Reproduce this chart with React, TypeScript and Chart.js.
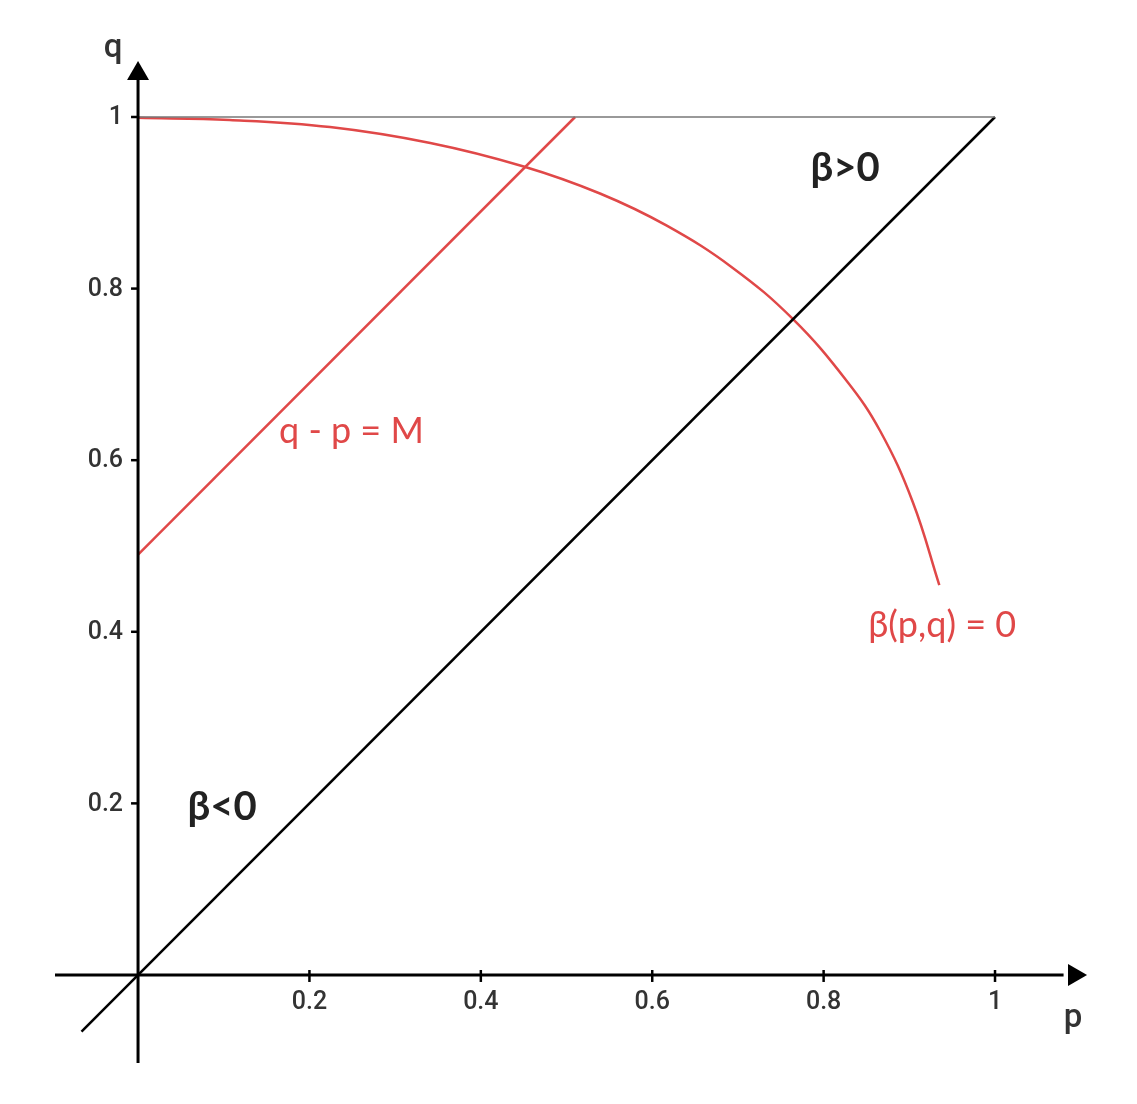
import { useEffect, useRef } from "react";
import { Chart, registerables } from "chart.js";
Chart.register(...registerables);

// ---- data ----
const xTickValues = [0.2, 0.4, 0.6, 0.8, 1];
const xTickLabels = ["0.2", "0.4", "0.6", "0.8", "1"];
const yTickValues = [0.2, 0.4, 0.6, 0.8, 1];
const yTickLabels = ["0.2", "0.4", "0.6", "0.8", "1"];

const M = 0.49;
const mLineP = [0, 1 - M];
const mLineQ = [M, 1];

const diagP = [-0.066, 1];
const diagQ = [-0.066, 1];

const topLineP = [0, 1];
const topLineQ = [1, 1];

const curveP = [0, 0.107, 0.224, 0.341, 0.45, 0.539, 0.617, 0.694, 0.764, 0.827, 0.866, 0.904, 0.935];
const curveQ = [0.999, 0.9965, 0.9883, 0.9697, 0.9423, 0.9108, 0.8733, 0.8241, 0.7646, 0.6923, 0.634, 0.5513, 0.4545];

const xAxisP = [-0.097, 1.08];
const yAxisQ = [-0.103, 1.05];

const X_MIN = -0.0969;
const X_MAX = 1.105;
const Y_MIN = -0.1026;
const Y_MAX = 1.0641;

const RED = "#e04848";

const zip = (a: number[], b: number[]) => a.map((v, i) => ({ x: v, y: b[i] }));

const overlayPlugin = {
  id: "overlay",
  afterDatasetsDraw(chart: any) {
    const ctx: CanvasRenderingContext2D = chart.ctx;
    const xs = chart.scales.x;
    const ys = chart.scales.y;
    const x0 = xs.getPixelForValue(0);
    const y0 = ys.getPixelForValue(0);
    ctx.save();
    // tick marks
    ctx.strokeStyle = "#000";
    ctx.lineWidth = 2.5;
    xTickValues.forEach((v) => {
      const px = xs.getPixelForValue(v);
      ctx.beginPath();
      ctx.moveTo(px, y0 - 5);
      ctx.lineTo(px, y0 + 7);
      ctx.stroke();
    });
    yTickValues.forEach((v) => {
      const py = ys.getPixelForValue(v);
      ctx.beginPath();
      ctx.moveTo(x0 - 7, py);
      ctx.lineTo(x0 + 1, py);
      ctx.stroke();
    });
    // tick labels
    ctx.fillStyle = "#333";
    ctx.font = "500 25px Roboto";
    ctx.textAlign = "center";
    ctx.textBaseline = "middle";
    xTickValues.forEach((v, i) => {
      ctx.fillText(xTickLabels[i], xs.getPixelForValue(v), y0 + 28);
    });
    ctx.textAlign = "right";
    yTickValues.forEach((v, i) => {
      ctx.fillText(yTickLabels[i], x0 - 15, ys.getPixelForValue(v) + 1);
    });
    // axis names
    ctx.font = "500 33px Roboto";
    ctx.textAlign = "center";
    ctx.textBaseline = "alphabetic";
    ctx.fillStyle = "#333";
    ctx.fillText("q", xs.getPixelForValue(-0.029), ys.getPixelForValue(1.07));
    ctx.fillText("p", xs.getPixelForValue(1.091), ys.getPixelForValue(-0.0606));
    // region labels
    ctx.font = "bold 40px Lato";
    ctx.fillStyle = "#222";
    ctx.textBaseline = "middle";
    ctx.fillText("β>0", xs.getPixelForValue(0.825), ys.getPixelForValue(0.9406));
    ctx.fillText("β<0", xs.getPixelForValue(0.098), ys.getPixelForValue(0.196));
    // red labels
    ctx.font = "36px Lato";
    ctx.fillStyle = RED;
    ctx.textAlign = "left";
    ctx.textBaseline = "alphabetic";
    ctx.fillText("q - p = M", xs.getPixelForValue(0.1645), ys.getPixelForValue(0.62));
    ctx.fillText("β(p,q) = 0", xs.getPixelForValue(0.852), ys.getPixelForValue(0.394));
    ctx.restore();
  },
};

export default function App() {
  const ref = useRef<HTMLCanvasElement | null>(null);
  useEffect(() => {
    if (!ref.current) return;
    const line = (data: any[], color: string, width: number) => ({
      type: "scatter" as const,
      data,
      showLine: true,
      borderColor: color,
      backgroundColor: color,
      borderWidth: width,
      pointRadius: 0,
      pointHoverRadius: 0,
      fill: false,
    });
    const chart = new Chart(ref.current, {
      type: "scatter",
      data: {
        datasets: [
          line(zip(xAxisP, [0, 0]), "#000", 3),
          line(zip([0, 0], yAxisQ), "#000", 3),
          line(zip(topLineP, topLineQ), "#777", 1.5),
          line(zip(diagP, diagQ), "#000", 2.5),
          line(zip(mLineP, mLineQ), RED, 2.5),
          { ...line(zip(curveP, curveQ), RED, 2.5), tension: 0.4 },
          {
            type: "scatter",
            data: [{ x: 1.0926, y: 0 }],
            pointStyle: "triangle",
            rotation: 90,
            pointRadius: 12.7,
            backgroundColor: "#000",
            borderWidth: 0,
            clip: false,
          },
          {
            type: "scatter",
            data: [{ x: 0, y: 1.0505 }],
            pointStyle: "triangle",
            rotation: 0,
            pointRadius: 12.7,
            backgroundColor: "#000",
            borderWidth: 0,
            clip: false,
          },
        ] as any,
      },
      options: {
        animation: false,
        responsive: true,
        maintainAspectRatio: false,
        events: [],
        layout: { padding: { left: 55, right: 52, top: 62, bottom: 41 } },
        plugins: { legend: { display: false }, tooltip: { enabled: false } },
        scales: {
          x: { type: "linear", min: X_MIN, max: X_MAX, display: false },
          y: { type: "linear", min: Y_MIN, max: Y_MAX, display: false },
        },
      },
      plugins: [overlayPlugin],
    });
    return () => chart.destroy();
  }, []);
  return (
    <div style={{ position: "fixed", left: 0, top: 0, width: 1137, height: 1104, background: "#fff" }}>
      <canvas ref={ref} />
    </div>
  );
}
